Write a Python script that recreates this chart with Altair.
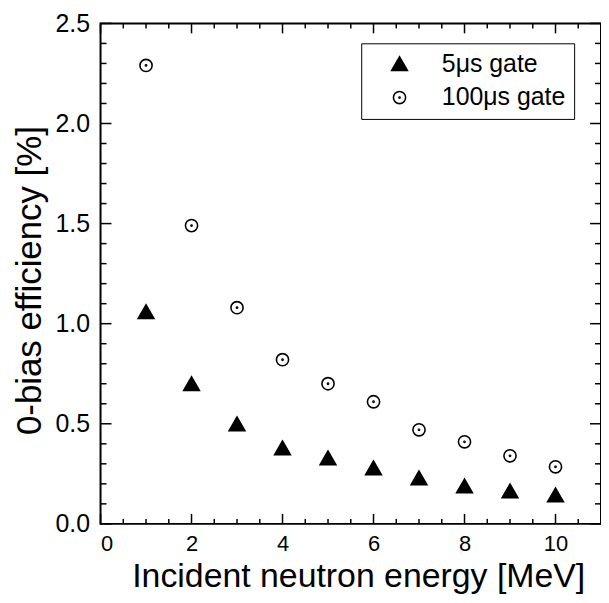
import altair as alt
import pandas as pd

energy = [1, 2, 3, 4, 5, 6, 7, 8, 9, 10]
eff_5us = [1.06, 0.70, 0.50, 0.38, 0.33, 0.28, 0.23, 0.19, 0.165, 0.145]
eff_100us = [2.29, 1.49, 1.08, 0.82, 0.70, 0.61, 0.47, 0.41, 0.34, 0.285]
series_names = ["5μs gate", "100μs gate"]

x_major = [0, 2, 4, 6, 8, 10]
x_minor = [0.5 * i for i in range(1, 22) if (0.5 * i) % 2 != 0]
y_major = [0.0, 0.5, 1.0, 1.5, 2.0, 2.5]
y_minor = [round(0.1 * i, 1) for i in range(1, 25) if i % 5 != 0]

W, H = 503, 503
FONT = "Liberation Sans"

df = pd.DataFrame({
    "energy": energy * 2,
    "eff": eff_5us + eff_100us,
    "series": [series_names[0]] * len(energy) + [series_names[1]] * len(energy),
})

xs = alt.Scale(domain=[0, 11], nice=False, zero=False)
ys = alt.Scale(domain=[0, 2.5], nice=False, zero=False)

circle_dot = ("M-1,0A1,1 0 1,1 1,0A1,1 0 1,1 -1,0Z"
              "M-0.1,0A0.1,0.1 0 1,1 0.1,0A0.1,0.1 0 1,1 -0.1,0Z")

points = alt.Chart(df).mark_point(opacity=1, strokeWidth=1.6).encode(
    x=alt.X("energy:Q", scale=xs,
            axis=alt.Axis(values=x_major, title="Incident neutron energy [MeV]",
                          ticks=False, domain=False, grid=False,
                          labelFontSize=22, labelPadding=10,
                          titleFontSize=34, titleFontWeight="normal",
                          titleBaseline="alphabetic", titleX=259, titleY=63)),
    y=alt.Y("eff:Q", scale=ys,
            axis=alt.Axis(values=y_major, format=".1f", title="0-bias efficiency [%]",
                          ticks=False, domain=False, grid=False,
                          labelFontSize=25, labelPadding=11,
                          titleFontSize=35, titleFontWeight="normal",
                          titleBaseline="alphabetic", titleX=-60, titleY=258)),
    shape=alt.Shape("series:N", scale=alt.Scale(domain=series_names, range=["triangle-up", circle_dot]),
                    legend=alt.Legend(title=None)),
    fill=alt.Fill("series:N", scale=alt.Scale(domain=series_names, range=["black", "white"]),
                  legend=alt.Legend(title=None)),
    size=alt.Size("series:N", scale=alt.Scale(domain=series_names, range=[250, 150]),
                  legend=alt.Legend(title=None)),
    stroke=alt.value("black"),
)

ymaj = pd.DataFrame({"v": y_major})
ymin = pd.DataFrame({"v": y_minor})
xmaj = pd.DataFrame({"v": x_major + [11]})
xmin = pd.DataFrame({"v": x_minor})

def yticks(d, length):
    base = alt.Chart(d).mark_rule(color="black", strokeWidth=1.5)
    left = base.encode(y=alt.Y("v:Q", scale=ys), x=alt.value(0), x2=alt.value(length))
    right = base.encode(y=alt.Y("v:Q", scale=ys), x=alt.value(W), x2=alt.value(W - length))
    return left + right

def xticks(d, length):
    base = alt.Chart(d).mark_rule(color="black", strokeWidth=1.5)
    bottom = base.encode(x=alt.X("v:Q", scale=xs), y=alt.value(H), y2=alt.value(H - length))
    top = base.encode(x=alt.X("v:Q", scale=xs), y=alt.value(0), y2=alt.value(length))
    return bottom + top

chart = alt.layer(
    yticks(ymaj, 11), yticks(ymin, 6), xticks(xmaj, 10), xticks(xmin, 5), points
).properties(
    width=W, height=H,
    autosize=alt.AutoSizeParams(type="none"),
    padding={"left": 93, "top": 14, "right": 0, "bottom": 70},
).configure_view(
    stroke="black", strokeWidth=2
).configure_axis(
    labelFont=FONT, titleFont=FONT, labelColor="black", titleColor="black"
).configure_legend(
    orient="none", legendX=262, legendY=20,
    labelFont=FONT, labelFontSize=25, labelColor="black",
    strokeColor="black", fillColor="white", padding=8,
    symbolStrokeWidth=1.6, rowPadding=8, labelOffset=30, symbolOffset=18,
)

chart.save("out.html", embed_options={"renderer": "svg", "actions": False})
